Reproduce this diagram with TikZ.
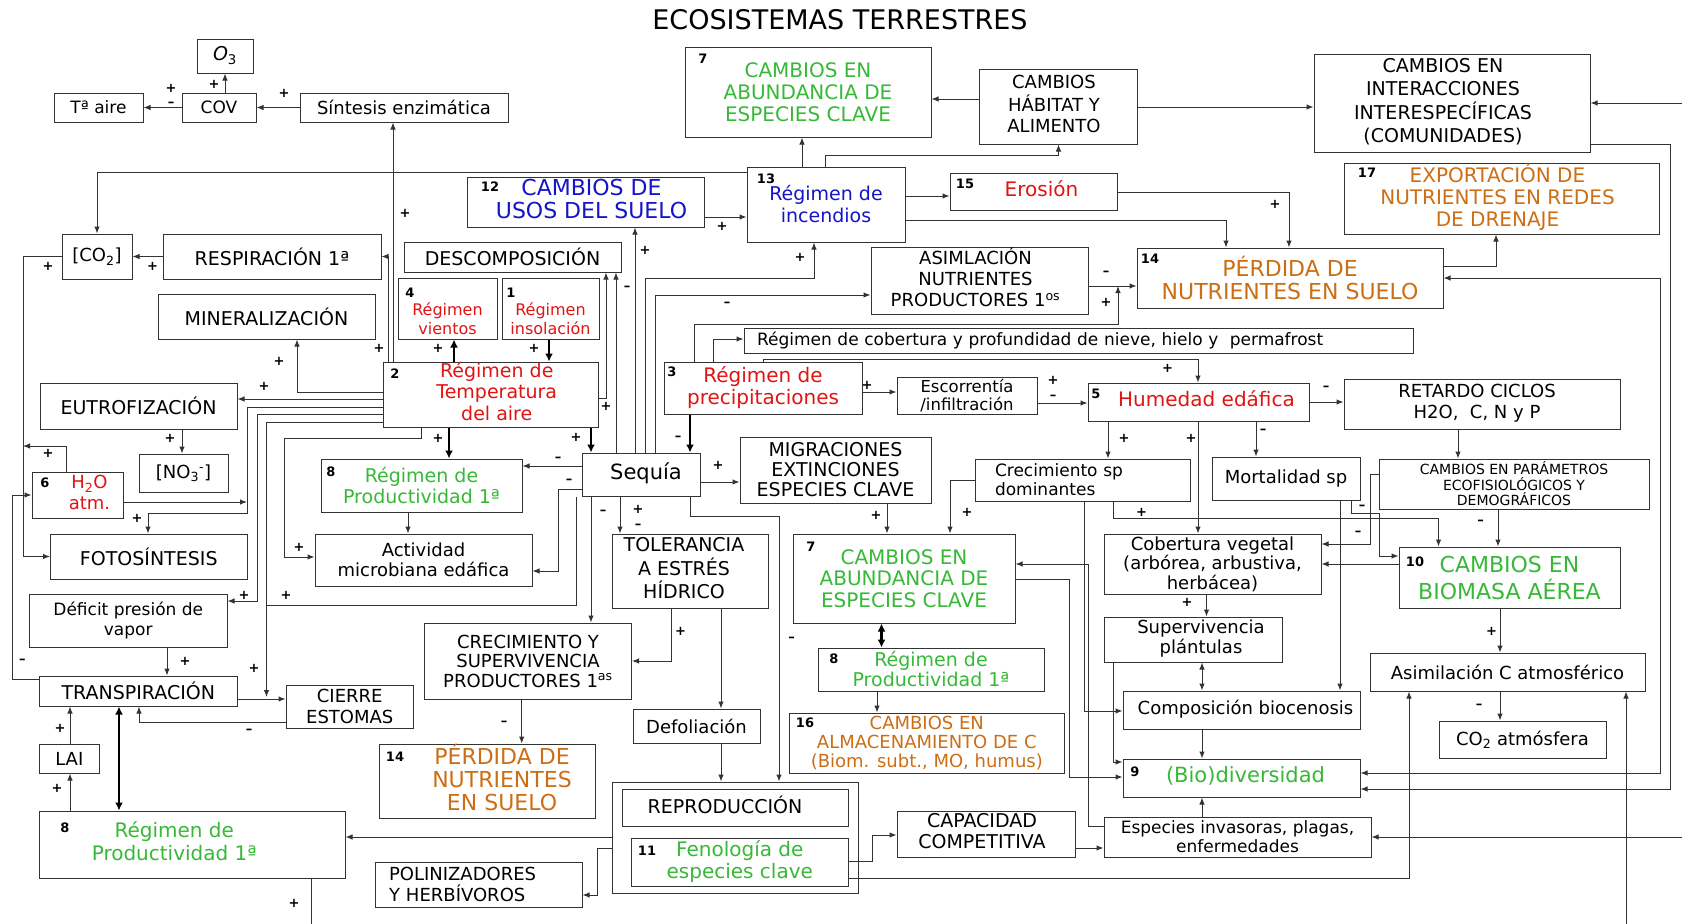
\documentclass[tikz,border=0pt]{standalone}
\usepackage{fontspec}
\setmainfont{DejaVu Sans}
\usetikzlibrary{arrows.meta}
\definecolor{cred}{RGB}{225,20,20}
\definecolor{cgreen}{RGB}{55,185,55}
\definecolor{cblue}{RGB}{20,20,200}
\definecolor{corange}{RGB}{205,110,20}
\newcommand\fz[2]{\fontsize{#1}{#2}\selectfont}
\newcommand\sh[4][c]{\hspace*{#2}\raisebox{#3}[\height][\depth]{\begin{tabular}{@{}#1@{}}#4\end{tabular}}\hspace*{-#2}}
\newcommand\bx[7][]{\node[bxs,#1,minimum width={(#5-(#3))*1pt},minimum height={(#6-(#4))*1pt}] (#2) at ({(#3+#5)/2},{(#4+#6)/2}) {#7};}
\newcounter{sgc}
\newcommand\sg[3]{\stepcounter{sgc}\node[sgnst] (sg\thesgc) at (#1,#2) {#3};}
\newcommand\nm[4]{\node[numst] (#1) at (#2,#3) {#4};}
\newcommand\mi{–}
\tikzset{
 bxs/.style={draw=black!80, line width=1pt, inner sep=0pt, align=center, font=\fz{17}{20}},
 ln/.style={draw=black!80, line width=1pt},
 ar/.style={ln, -{Latex[length=7pt,width=5.5pt]}},
 dar/.style={ln, {Latex[length=7pt,width=5.5pt]}-{Latex[length=7pt,width=5.5pt]}},
 tk/.style={draw=black, line width=2.4pt, -{Latex[length=8pt,width=8pt]}},
 dtk/.style={draw=black, line width=2.4pt, {Latex[length=8pt,width=8pt]}-{Latex[length=8pt,width=8pt]}},
 sgnst/.style={font=\bfseries\fz{13}{13}, inner sep=0pt},
 numst/.style={font=\bfseries\fz{13}{13}, inner sep=0pt},
}
\begin{document}
\begin{tikzpicture}[x=1pt,y=-1pt]
\fill[white] (0,0) rectangle (1682,924);
\useasboundingbox (0,0) rectangle (1682,924);
\node[font=\fz{27}{30}] (title) at (840,20) {ECOSISTEMAS TERRESTRES};
% ---------- boxes
\bx[font=\fz{19}{22}]{o3}{197}{39}{253}{73}{\textit{O}\textsubscript{3}}
\bx{tair}{54}{93}{143}{122}{Tª aire}
\bx{cov}{182}{93}{256}{122}{COV}
\bx[font=\fz{18}{21}]{sint}{300}{93}{508}{122}{Síntesis enzimática}
\bx[font=\fz{18}{21}]{co2}{62}{234}{132}{279}{[CO\textsubscript{2}]}
\bx[font=\fz{19}{22}]{resp}{163}{234}{381}{279}{RESPIRACIÓN 1ª}
\bx[font=\fz{19}{22}]{miner}{158}{294}{375}{339}{MINERALIZACIÓN}
\bx[font=\fz{19}{22}]{eutro}{40}{383}{237}{429}{EUTROFIZACIÓN}
\bx[font=\fz{18}{21}]{no3}{139}{454}{228}{492}{[NO\textsubscript{3}\textsuperscript{-}]}
\bx[font=\fz{18}{21},text=cred]{h2o}{32}{472}{123}{518}{\sh{12pt}{0pt}{H\textsubscript{2}O\\atm.}}
\bx[font=\fz{19}{22}]{foto}{50.5}{534}{247}{579}{FOTOSÍNTESIS}
\bx{defic}{29.5}{594}{227}{647}{Déficit presión de\\vapor}
\bx[font=\fz{19}{22}]{transp}{39.6}{676}{237}{706}{TRANSPIRACIÓN}
\bx[font=\fz{18}{21}]{cierre}{286}{685}{413.5}{728}{CIERRE\\ESTOMAS}
\bx[font=\fz{18}{21}]{lai}{39.6}{744}{99}{773}{LAI}
\bx[font=\fz{20}{23},text=cgreen]{prodB}{39.6}{811}{345}{878}{\sh{-18pt}{0pt}{Régimen de\\Productividad 1ª}}
\bx[font=\fz{19}{22}]{descomp}{404}{242}{621}{272}{DESCOMPOSICIÓN}
\bx[font=\fz{16}{19},text=cred]{vient}{398}{278}{497}{339}{\sh{0pt}{-13pt}{Régimen\\vientos}}
\bx[font=\fz{16}{19},text=cred]{insol}{502}{278}{599}{339}{\sh{0pt}{-13pt}{Régimen\\insolación}}
\bx[font=\fz{19}{21.5},text=cred]{temp}{383}{362}{598.5}{427}{\sh{6pt}{0pt}{Régimen de\\Temperatura\\del aire}}
\bx[font=\fz{22}{22},text=cblue]{usos}{467}{177}{704}{227}{\sh{6pt}{0pt}{CAMBIOS DE\\USOS DEL SUELO}}
\bx[font=\fz{19}{22},text=cblue]{incend}{747}{167}{905}{242}{\sh{0pt}{-3pt}{Régimen de\\incendios}}
\bx[font=\fz{20}{22},text=cgreen]{abundT}{685}{47}{931}{137}{CAMBIOS EN\\ABUNDANCIA DE\\ESPECIES CLAVE}
\bx[font=\fz{18}{21}]{habitat}{979}{69}{1137}{144}{\sh{-4pt}{0pt}{CAMBIOS\\HÁBITAT Y\\ALIMENTO}}
\bx[font=\fz{19}{22.5}]{interac}{1314}{54}{1590}{152}{\sh{-9pt}{0pt}{CAMBIOS EN\\INTERACCIONES\\INTERESPECÍFICAS\\(COMUNIDADES)}}
\bx[font=\fz{20}{22},text=cred]{eros}{950}{173}{1117}{210}{\sh{8pt}{0pt}{Erosión}}
\bx[font=\fz{20}{22},text=corange]{export}{1344}{163}{1659}{234}{\sh{-4pt}{0pt}{EXPORTACIÓN DE\\NUTRIENTES EN REDES\\DE DRENAJE}}
\bx[font=\fz{22}{23},text=corange]{perdT}{1137}{248}{1443}{308}{\sh{0pt}{-3pt}{PÉRDIDA DE\\NUTRIENTES EN SUELO}}
\bx[font=\fz{18}{21}]{asimN}{871}{247}{1088}{314}{\sh{-4pt}{0pt}{ASIMLACIÓN\\NUTRIENTES\\PRODUCTORES 1\textsuperscript{os}}}
\bx[font=\fz{17}{20},align=left,text width=643pt]{nieve}{744}{328}{1413}{353}{Régimen de cobertura y profundidad de nieve, hielo y\ \ permafrost}
\bx[font=\fz{20}{22},text=cred]{precip}{664}{362}{862}{414}{Régimen de\\precipitaciones}
\bx[font=\fz{16.5}{18}]{escor}{897}{377}{1037}{414}{Escorrentía\\/infiltración}
\bx[font=\fz{20}{22},text=cred]{humed}{1088}{383}{1309}{421}{\sh{8pt}{0pt}{Humedad edáfica}}
\bx[font=\fz{18}{21}]{retard}{1344}{379}{1620}{429}{\sh{-5pt}{0pt}{RETARDO CICLOS\\H2O,\ \ C, N y P}}
\bx[font=\fz{14}{15.5}]{param}{1379}{459}{1649}{509}{CAMBIOS EN PARÁMETROS\\ECOFISIOLÓGICOS Y\\DEMOGRÁFICOS}
\bx[font=\fz{21}{22}]{sequia}{582}{453}{700}{496}{\sh{5pt}{0pt}{Sequía}}
\bx[font=\fz{19}{20}]{migr}{740}{437}{931}{503}{MIGRACIONES\\EXTINCIONES\\ESPECIES CLAVE}
\bx[font=\fz{17}{19},align=left,text width=175pt]{crecsp}{975}{459}{1190}{501}{Crecimiento sp\\dominantes}
\bx[font=\fz{18}{21}]{mortal}{1212}{457}{1360}{500}{Mortalidad sp}
\bx[font=\fz{19}{21},text=cgreen]{prodL}{321}{459}{522}{512}{Régimen de\\Productividad 1ª}
\bx[font=\fz{18}{20}]{activ}{315}{534}{532}{586}{Actividad\\microbiana edáfica}
\bx[font=\fz{19}{19.5}]{toler}{612}{534}{768}{608}{\sh{-6pt}{0pt}{TOLERANCIA\\A ESTRÉS\\HÍDRICO}}
\bx[font=\fz{18}{19.5}]{crecS}{424.5}{623}{631.5}{699}{CRECIMIENTO Y\\SUPERVIVENCIA\\PRODUCTORES 1\textsuperscript{as}}
\bx[font=\fz{22}{22},text=corange]{perdB}{379}{744}{595}{818}{\sh{15pt}{0pt}{PÉRDIDA DE\\NUTRIENTES\\EN SUELO}}
\bx[font=\fz{18}{21}]{defol}{633}{709}{760}{743}{Defoliación}
\bx[font=\fz{20}{21.5},text=cgreen]{abundM}{793}{534}{1015}{623}{CAMBIOS EN\\ABUNDANCIA DE\\ESPECIES CLAVE}
\bx[font=\fz{19}{20},text=cgreen]{prodM}{818}{648}{1044}{691}{Régimen de\\Productividad 1ª}
\bx[font=\fz{18}{19},text=corange]{almac}{789.6}{713}{1064}{773}{CAMBIOS EN\\ALMACENAMIENTO DE C\\(Biom. subt., MO, humus)}
\bx[font=\fz{18}{19.5}]{cobveg}{1104}{534}{1321}{594}{Cobertura vegetal\\(arbórea, arbustiva,\\herbácea)}
\bx[font=\fz{22}{22},text=cgreen]{biomasa}{1399}{547}{1620}{608}{\sh{0pt}{-4pt}{CAMBIOS EN\\BIOMASA AÉREA}}
\bx[font=\fz{18}{19}]{superv}{1104}{617}{1282}{662}{\sh{8pt}{0pt}{Supervivencia\\plántulas}}
\bx[font=\fz{18}{21}]{compos}{1123}{691}{1360}{729}{\sh{4pt}{0pt}{Composición biocenosis}}
\bx[font=\fz{21}{22},text=cgreen]{biodiv}{1123}{759}{1360}{797}{\sh{4pt}{0pt}{(Bio)diversidad}}
\bx[font=\fz{17}{19}]{invas}{1104}{817}{1371}{857}{Especies invasoras, plagas,\\enfermedades}
\bx[font=\fz{18}{21}]{asimC}{1370}{653}{1645}{691}{Asimilación C atmosférico}
\bx[font=\fz{18}{21}]{co2atm}{1439}{721}{1606}{758}{CO\textsubscript{2} atmósfera}
\bx{grupo}{612}{782}{858}{893}{}
\bx[font=\fz{19}{21}]{reprod}{622}{789}{848}{826}{\sh{-10pt}{0pt}{REPRODUCCIÓN}}
\bx[font=\fz{20}{22},text=cgreen]{fenol}{631.5}{838}{848}{886}{Fenología de\\especies clave}
\bx[font=\fz{19}{21}]{capac}{897}{811}{1075}{857}{\sh{-4pt}{0pt}{CAPACIDAD\\COMPETITIVA}}
\bx[font=\fz{18}{21},align=left,text width=179pt]{polin}{375}{862}{582}{907}{POLINIZADORES\\Y HERBÍVOROS}
% ---------- numbers
\nm{n7a}{703}{59}{7}
\nm{n13}{766}{179}{13}
\nm{n15}{965}{184}{15}
\nm{n12}{490}{187}{12}
\nm{n14a}{1150}{259}{14}
\nm{n17}{1367}{173}{17}
\nm{n4}{410}{293}{4}
\nm{n1}{511}{293}{1}
\nm{n2}{395}{374}{2}
\nm{n3}{672}{372}{3}
\nm{n5}{1096}{394}{5}
\nm{n6}{45}{483}{6}
\nm{n8a}{331}{472}{8}
\nm{n7b}{811}{547}{7}
\nm{n10}{1415}{562}{10}
\nm{n8b}{834}{659}{8}
\nm{n16}{805}{723}{16}
\nm{n9}{1135}{772}{9}
\nm{n11}{647}{851}{11}
\nm{n14b}{395}{757}{14}
\nm{n8c}{65}{828}{8}
% ---------- free ends
\coordinate (rI) at (1682,103);
\coordinate (rE) at (1682,837);
\coordinate (bR) at (1626,924);
\coordinate (bL) at (311,924);
% ---------- connectors
\draw[ar] (cov.west) -- (tair.east);
\draw[ar] (o3.south |- cov.north) -- (o3.south);
\draw[ar] (sint.west) -- (cov.east);
\draw[ar] (temp.north -| 393,0) -- (sint.south -| 393,0);
\draw[ar] (temp.north -| 388.5,0) |- (resp.east);
\draw[ar] (resp.west) -- (co2.east);
\draw[ar] (co2.west) -- (co2.west -| 23,0) |- (foto.west);
\draw[ar] (incend.west |- 0,172) -| (co2.north);
\draw[ar] (usos.east |- 0,217) -- (incend.west |- 0,217);
\draw[tk] (temp.north -| 454,0) -- (vient.south -| 454,0);
\draw[tk] (insol.south -| 549,0) -- (temp.north -| 549,0);
\draw[ar] (temp.east |- 0,398) -| (descomp.south -| 606,0);
\draw[ar] (sequia.north -| 616,0) -- (descomp.south -| 616,0);
\draw[ar] (sequia.north -| 635,0) -- (usos.south -| 635,0);
\draw[ar] (sequia.north -| 645,0) -- (645,278) -| (incend.south -| 814,0);
\draw[ar] (sequia.north -| 655,0) |- (asimN.west |- 0,295);
\draw[ar] (precip.north -| 694,0) |- (1118,324) -- (1118,286);
\draw[ar] (asimN.east |- 0,286) -- (perdT.west |- 0,286);
\draw[ar] (precip.north -| 713,0) |- (nieve.west |- 0,339);
\draw[ar] (precip.north -| 763,0) -- (763,359) -| (humed.north -| 1198,0);
\draw[tk] (precip.south -| 690,0) -- (sequia.north -| 690,0);
\draw[ar] (precip.east |- 0,392) -- (escor.west |- 0,392);
\draw[ar] (escor.east |- 0,403) -- (humed.west |- 0,403);
\draw[tk] (temp.south -| 449,0) -- (prodL.north -| 449,0);
\draw[tk] (temp.south -| 591,0) -- (sequia.north -| 591,0);
\draw[ar] (temp.west |- 0,392) -| (miner.south -| 297,0);
\draw[ar] (temp.west |- 0,399) -- (eutro.east |- 0,399);
\draw[ar] (temp.west |- 0,407) -- (247,407) -- (247,513) -| (foto.north -| 148,0);
\draw[ar] (h2o.east |- 0,502) -- (247,502);
\draw[ar] (temp.west |- 0,414) -- (257,414) |- (defic.east |- 0,601);
\draw[ar] (temp.west |- 0,422) -- (266.5,422) -- (266.5,697);
\draw[ln] (sequia.south -| 576,0) |- (266.5,605);
\draw[ar] (temp.south -| 421,0) -- (421,438) -- (284,438) |- (activ.west |- 0,557);
\draw[ar] (eutro.south -| 182,0) -- (no3.north -| 182,0);
\draw[ar] (h2o.north -| 66,0) -- (66,446) -- (23,446);
\draw[ar] (sequia.west |- 0,466) -- (prodL.east |- 0,466);
\draw[ar] (sequia.west |- 0,489) -- (558,489) |- (activ.east |- 0,571);
\draw[ar] (prodL.south -| 408,0) -- (activ.north -| 408,0);
\draw[ar] (sequia.south -| 591,0) -- (crecS.north -| 591,0);
\draw[ar] (sequia.south -| 620,0) -- (toler.north -| 620,0);
\draw[ar] (sequia.east |- 0,482) -- (migr.west |- 0,482);
\draw[ar] (sequia.south -| 690,0) -- (690,516) -| (grupo.north -| 779,0);
\draw[ar] (toler.south -| 671,0) |- (crecS.east |- 0,661);
\draw[ar] (toler.south -| 721,0) -- (defol.north -| 721,0);
\draw[ar] (defol.south -| 721,0) -- (grupo.north -| 721,0);
\draw[ar] (migr.south -| 887,0) -- (abundM.north -| 887,0);
\draw[ar] (crecsp.west |- 0,480) -| (abundM.north -| 950,0);
\draw[ar] (humed.south -| 1108,0) -- (crecsp.north -| 1108,0);
\draw[ar] (humed.south -| 1198,0) -- (cobveg.north -| 1198,0);
\draw[ar] (humed.south -| 1256,0) -- (mortal.north -| 1256,0);
\draw[ar] (humed.east |- 0,402) -- (retard.west |- 0,402);
\draw[ar] (retard.south -| 1458,0) -- (param.north -| 1458,0);
\draw[ar] (param.south -| 1498,0) -- (biomasa.north -| 1498,0);
\draw[ar] (param.west |- 0,474) -- (1370,474) |- (cobveg.east |- 0,544);
\draw[ar] (biomasa.west |- 0,564) -- (cobveg.east |- 0,564);
\draw[ar] (crecsp.south -| 1113,0) |- (1438.5,518) -- (biomasa.north -| 1438.5,0);
\draw[ar] (mortal.south -| 1351,0) -- (1351,513) -- (1379,513) |- (biomasa.west |- 0,556);
\draw[ar] (mortal.south -| 1340,0) -- (compos.north -| 1340,0);
\draw[ar] (crecsp.south -| 1084,0) |- (compos.west |- 0,711);
\draw[ar] (cobveg.south -| 1206.5,0) -- (superv.north -| 1206.5,0);
\draw[dar] (superv.south -| 1202,0) -- (compos.north -| 1202,0);
\draw[ar] (compos.south -| 1202,0) -- (biodiv.north -| 1202,0);
\draw[ar] (superv.south -| 1113,0) |- (biodiv.west |- 0,762);
\draw[ar] (abundM.east |- 0,579) -- (1069,579) |- (biodiv.west |- 0,777);
\draw[ar] (invas.west |- 0,826) -- (1088,826) |- (abundM.east |- 0,564);
\draw[ar] (invas.north -| 1202,0) -- (biodiv.south -| 1202,0);
\draw[ar] (capac.east |- 0,848) -- (invas.west |- 0,848);
\draw[ar] (fenol.east |- 0,861) -- (872,861) |- (capac.west |- 0,835);
\draw[ar] (fenol.east |- 0,878) -| (asimC.south -| 1409,0);
\draw[ar] (biomasa.south -| 1500,0) -- (asimC.north -| 1500,0);
\draw[ar] (asimC.south -| 1500,0) -- (co2atm.north -| 1500,0);
\draw[ar] (bR) -- (asimC.south -| bR);
\draw[ar] (interac.east |- 0,144) -- (1670,144) |- (biodiv.east |- 0,789);
\draw[dar] (perdT.east |- 0,278) -- (1660,278) |- (biodiv.east |- 0,773);
\draw[ar] (rI) -- (interac.east |- rI);
\draw[ar] (rE) -- (invas.east |- rE);
\draw[ar] (perdT.east |- 0,266) -| (export.south -| 1496,0);
\draw[ar] (eros.east |- 0,192) -| (perdT.north -| 1289,0);
\draw[ar] (incend.east |- 0,220) -| (perdT.north -| 1226,0);
\draw[ar] (incend.east |- 0,196) -- (eros.west |- 0,196);
\draw[ar] (incend.north -| 802,0) -- (abundT.south -| 802,0);
\draw[ar] (incend.north -| 825,0) |- (1058.5,155) -- (habitat.south -| 1058.5,0);
\draw[ar] (habitat.west |- 0,99) -- (abundT.east |- 0,99);
\draw[ar] (habitat.east |- 0,107) -- (interac.west |- 0,107);
\draw[dtk] (abundM.south -| 881.5,0) -- (prodM.north -| 881.5,0);
\draw[ar] (prodM.south -| 877,0) -- (almac.north -| 877,0);
\draw[ar] (crecS.south -| 521.7,0) -- (perdB.north -| 521.7,0);
\draw[ar] (grupo.west |- 0,837) -- (prodB.east |- 0,837);
\draw[ar] (grupo.west |- 0,848) -- (597,848) |- (polin.east |- 0,895);
\draw[ln] (prodB.south -| bL) -- (bL);
\draw[ar] (defic.south -| 167,0) -- (transp.north -| 167,0);
\draw[ar] (transp.east |- 0,699) -- (cierre.west |- 0,699);
\draw[ar] (cierre.west |- 0,722) -| (transp.south -| 139,0);
\draw[ar] (transp.west |- 0,679) -- (12,679) |- (h2o.west |- 0,495);
\draw[ar] (lai.north -| 70,0) -- (transp.south -| 70,0);
\draw[ar] (prodB.north -| 70,0) -- (lai.south -| 70,0);
\draw[dtk] (transp.south -| 119,0) -- (prodB.north -| 119,0);
% ---------- signs
\sg{171}{88}{+} \sg{171}{104}{\mi}
\sg{214}{84}{+}
\sg{284}{93}{+}
\sg{405}{213}{+}
\sg{152.5}{266}{+}
\sg{48}{266}{+}
\sg{722}{226}{+}
\sg{438}{348}{+} \sg{534}{348}{+}
\sg{606}{406}{+}
\sg{645}{250}{+}
\sg{627}{288}{\mi}
\sg{727}{304}{\mi}
\sg{800}{257}{+}
\sg{678}{438}{\mi}
\sg{438}{438}{+}
\sg{576}{437}{+}
\sg{1106}{273}{\mi} \sg{1106}{302}{+}
\sg{1275}{204}{+}
\sg{279}{361}{+} \sg{264}{386}{+}
\sg{244}{595}{+} \sg{286}{595}{+}
\sg{299}{547}{+}
\sg{48}{453}{+}
\sg{137}{518}{+}
\sg{170}{438}{+}
\sg{379}{348}{+}
\sg{558}{459}{\mi} \sg{569}{481}{\mi}
\sg{603}{512}{\mi} \sg{638}{509}{+} \sg{638}{526}{\mi}
\sg{718}{465}{+}
\sg{680.5}{631}{+}
\sg{791.5}{639}{\mi}
\sg{867}{385}{+}
\sg{1053}{380}{+} \sg{1053}{397}{\mi}
\sg{1167.5}{368}{+}
\sg{876}{515}{+}
\sg{1124}{438}{+} \sg{1191}{438}{+} \sg{1263}{431}{\mi}
\sg{967}{512}{+}
\sg{1141.5}{512}{+}
\sg{1362}{507}{\mi}
\sg{1326}{388}{\mi}
\sg{1480.5}{522}{\mi}
\sg{1358}{533}{\mi}
\sg{1187}{602}{+}
\sg{1491.5}{631}{+} \sg{1479}{706}{\mi}
\sg{185}{661}{+} \sg{254}{668}{+} \sg{249}{731}{\mi} \sg{22.5}{661}{\mi}
\sg{60}{728}{+} \sg{57}{788}{+}
\sg{504}{723}{\mi}
\sg{294}{903}{+}
\end{tikzpicture}
\end{document}
